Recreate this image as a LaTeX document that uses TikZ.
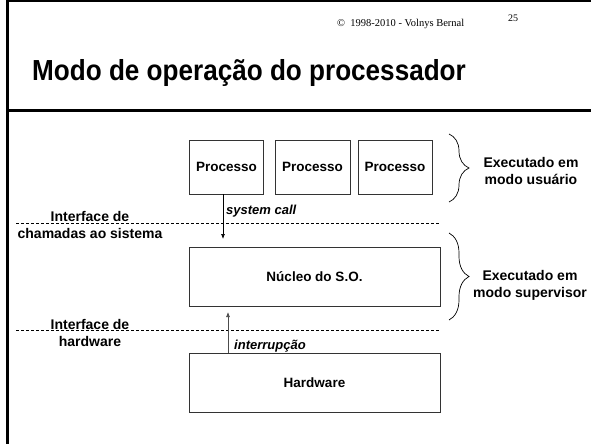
\documentclass[tikz,border=0pt]{standalone}
\usepackage{fontspec}
\usepackage{graphicx}
\setmainfont{Liberation Sans}
\newfontfamily\serifcr{Liberation Serif}
\usetikzlibrary{arrows.meta,decorations.pathreplacing}
\tikzset{
  boxst/.style={draw=black!80, line width=0.8pt, inner sep=0pt, font=\fontsize{13.5}{16}\selectfont\bfseries},
  dashst/.style={line width=0.7pt, dash pattern=on 3pt off 2pt},
  lbl/.style={align=center, inner sep=0pt, font=\fontsize{14}{17}\selectfont\bfseries},
  itl/.style={inner sep=0pt, font=\fontsize{13}{15}\selectfont\bfseries\itshape},
  arr/.style={line width=0.7pt, -{Latex[length=5pt,width=4pt]}},
  bracest/.style={line width=0.7pt, decorate, decoration={brace, amplitude=20pt}},
  framest/.style={line width=3pt}
}
\begin{document}
\begin{tikzpicture}[x=1pt,y=-1pt]
\useasboundingbox (0,0) rectangle (591,444);
% frame
\coordinate (ftl) at (7.5,0);
\coordinate (fbl) at (7.5,444);
\coordinate (ftr) at (591,1);
\coordinate (rl) at (7.5,110);
\coordinate (rr) at (591,110);
\draw[framest] (ftl) -- (fbl);
\draw[line width=2pt] (ftl |- ftr) -- (ftr);
\draw[framest] (rl) -- (rr);
% header
\node[anchor=base west, inner sep=0pt, font=\serifcr\fontsize{10.5}{12}\selectfont] (copy) at (337,27) {\textcopyright\ \ 1998-2010 - Volnys Bernal};
\node[anchor=base west, inner sep=0pt, font=\serifcr\fontsize{10}{12}\selectfont] (pg) at (508,22) {25};
\node[anchor=base west, inner sep=0pt, font=\fontsize{29}{34}\selectfont\bfseries] (title) at (32,81) {\scalebox{0.9}[1]{Modo de operação do processador}};
% boxes
\node[boxst, minimum width=74pt, minimum height=54pt] (p1) at (226.5,167) {Processo};
\node[boxst, minimum width=75pt, minimum height=54pt] (p2) at (312.5,167) {Processo};
\node[boxst, minimum width=74pt, minimum height=54pt] (p3) at (395,167) {Processo};
\node[boxst, minimum width=251pt, minimum height=59pt] (nuc) at (314.5,276.5) {Núcleo do S.O.};
\node[boxst, minimum width=251pt, minimum height=59pt] (hw) at (314.5,382.5) {Hardware};
% dashed interfaces
\coordinate (d1l) at (16,223);
\coordinate (d1r) at (440,223);
\coordinate (d2l) at (16,330);
\coordinate (d2r) at (440,330);
\draw[dashst] (d1l) -- (d1r);
\draw[dashst] (d2l) -- (d2r);
\node[lbl] (if1) at (90,224.5) {Interface de\\chamadas ao sistema};
\node[lbl] (if2) at (90,332.5) {Interface de\\hardware};
% arrows
\coordinate (sctip) at (223,239);
\draw[arr] (p1.south -| sctip) -- (sctip);
\node[itl, anchor=west] (sc) at (226,211) {system call};
\coordinate (irtip) at (228,312);
\draw[arr, draw=black!70] (hw.north -| irtip) -- (irtip);
\node[itl, anchor=west] (ir) at (234,346) {interrupção};
% braces
\coordinate (b1t) at (449,134);
\coordinate (b1b) at (449,202);
\coordinate (b2t) at (449,233);
\coordinate (b2b) at (449,320);
\draw[bracest] (b1t) -- (b1b);
\draw[bracest] (b2t) -- (b2b);
\node[lbl] (eu) at (531,171) {Executado em\\modo usuário};
\node[lbl] (es) at (530,285) {Executado em\\modo supervisor};
\end{tikzpicture}
\end{document}
